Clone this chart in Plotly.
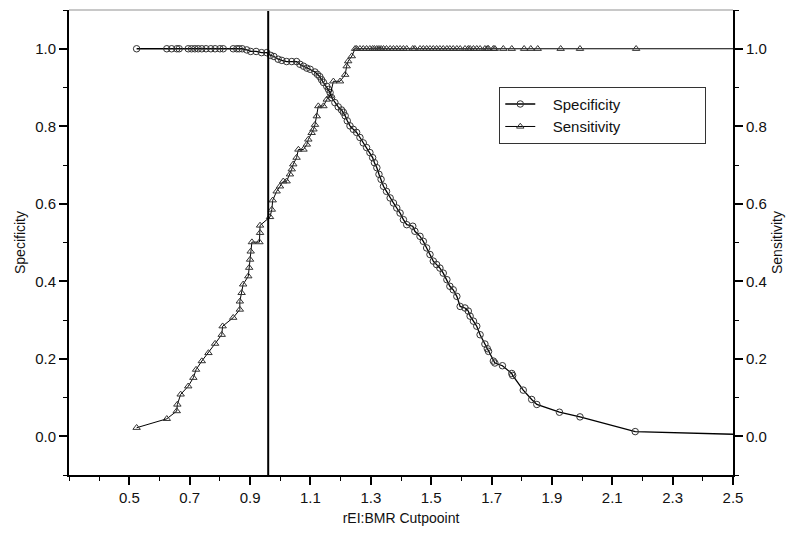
import plotly.graph_objects as go

# cutpoint (x) and specificity values, circles
spec_x = [0.524, 0.624, 0.640, 0.657, 0.665, 0.695, 0.706, 0.717, 0.728, 0.740,
          0.754, 0.770, 0.784, 0.800, 0.811, 0.844, 0.856, 0.864, 0.874,
          0.889, 0.902, 0.920, 0.938, 0.955, 0.968, 0.979, 0.993, 1.005, 1.021,
          1.038, 1.054, 1.065, 1.077, 1.088, 1.099, 1.115, 1.123, 1.131, 1.137,
          1.143, 1.154, 1.160, 1.165, 1.170, 1.181, 1.192, 1.203, 1.209, 1.215,
          1.222, 1.231, 1.242, 1.253, 1.264, 1.275, 1.286, 1.297, 1.306, 1.312,
          1.320, 1.327, 1.334, 1.342, 1.352, 1.364, 1.375, 1.386, 1.397, 1.408,
          1.419, 1.439, 1.446, 1.463, 1.474, 1.485, 1.496, 1.507, 1.518, 1.529,
          1.540, 1.552, 1.562, 1.573, 1.585, 1.596, 1.612, 1.623, 1.629, 1.640,
          1.651, 1.662, 1.678, 1.686, 1.690, 1.706, 1.711, 1.736, 1.767, 1.770,
          1.805, 1.833, 1.850, 1.925, 1.993, 2.176, 2.750]
spec_y = [1.000, 1.000, 1.000, 1.000, 1.000, 1.000, 1.000, 1.000, 1.000, 1.000,
          1.000, 1.000, 1.000, 1.000, 1.000, 1.000, 1.000, 1.000, 1.000,
          0.997, 0.993, 0.993, 0.990, 0.990, 0.983, 0.980, 0.973, 0.970, 0.967,
          0.967, 0.967, 0.960, 0.955, 0.950, 0.947, 0.940, 0.934, 0.928, 0.920,
          0.913, 0.903, 0.895, 0.887, 0.874, 0.861, 0.850, 0.842, 0.836, 0.827,
          0.814, 0.801, 0.792, 0.784, 0.771, 0.757, 0.745, 0.732, 0.719, 0.706,
          0.693, 0.676, 0.663, 0.645, 0.632, 0.615, 0.602, 0.589, 0.576, 0.559,
          0.546, 0.542, 0.529, 0.516, 0.503, 0.486, 0.469, 0.452, 0.443, 0.434,
          0.421, 0.404, 0.387, 0.378, 0.361, 0.335, 0.331, 0.323, 0.310, 0.297,
          0.284, 0.262, 0.238, 0.226, 0.219, 0.194, 0.189, 0.182, 0.162, 0.157,
          0.119, 0.095, 0.082, 0.062, 0.050, 0.012, 0.000]

# cutpoint (x) and sensitivity values, triangles
sens_x = [0.524, 0.624, 0.657, 0.659, 0.670, 0.695, 0.712, 0.721, 0.740, 0.762,
          0.784, 0.806, 0.809, 0.844, 0.866, 0.866, 0.872, 0.877, 0.894, 0.897,
          0.900, 0.902, 0.906, 0.931, 0.933, 0.933, 0.966, 0.972, 0.975, 0.988,
          0.999, 1.010, 1.021, 1.032, 1.038, 1.043, 1.054, 1.060, 1.077, 1.088,
          1.093, 1.104, 1.110, 1.115, 1.121, 1.126, 1.143, 1.154, 1.165, 1.176,
          1.198, 1.215, 1.220, 1.225, 1.237, 1.248, 1.253, 1.264, 1.275, 1.286,
          1.297, 1.306, 1.312, 1.320, 1.327, 1.334, 1.342, 1.352, 1.364, 1.375,
          1.386, 1.397, 1.408, 1.419, 1.439, 1.446, 1.463, 1.474, 1.485, 1.496,
          1.507, 1.518, 1.529, 1.540, 1.552, 1.562, 1.573, 1.585, 1.596, 1.612,
          1.623, 1.629, 1.640, 1.651, 1.662, 1.678, 1.686, 1.690, 1.706, 1.711,
          1.739, 1.767, 1.808, 1.830, 1.853, 1.929, 1.993, 2.179, 2.750]
sens_y = [0.022, 0.045, 0.065, 0.082, 0.108, 0.129, 0.151, 0.172, 0.194, 0.215,
          0.239, 0.262, 0.284, 0.306, 0.327, 0.348, 0.370, 0.392, 0.413, 0.435,
          0.456, 0.477, 0.501, 0.501, 0.525, 0.544, 0.566, 0.585, 0.609, 0.632,
          0.645, 0.658, 0.658, 0.676, 0.689, 0.702, 0.719, 0.740, 0.740, 0.753,
          0.766, 0.783, 0.792, 0.804, 0.826, 0.852, 0.852, 0.869, 0.878, 0.916,
          0.916, 0.933, 0.955, 0.968, 0.981, 1.000, 1.000, 1.000, 1.000, 1.000,
          1.000, 1.000, 1.000, 1.000, 1.000, 1.000, 1.000, 1.000, 1.000, 1.000,
          1.000, 1.000, 1.000, 1.000, 1.000, 1.000, 1.000, 1.000, 1.000, 1.000,
          1.000, 1.000, 1.000, 1.000, 1.000, 1.000, 1.000, 1.000, 1.000, 1.000,
          1.000, 1.000, 1.000, 1.000, 1.000, 1.000, 1.000, 1.000, 1.000, 1.000,
          1.000, 1.000, 1.000, 1.000, 1.000, 1.000, 1.000, 1.000, 1.000]

cutpoint = 0.96
x_ticks = [0.5, 0.7, 0.9, 1.1, 1.3, 1.5, 1.7, 1.9, 2.1, 2.3, 2.5]
y_ticks = [0.0, 0.2, 0.4, 0.6, 0.8, 1.0]

font = "Liberation Sans, Arial, sans-serif"


def legend_name(text):
    # pad with non-breaking spaces so the legend box is as wide as the original
    return "\u00a0" * 3 + text + "\u00a0" * 19


fig = go.Figure()
fig.add_trace(go.Scatter(
    x=spec_x, y=spec_y, name=legend_name("Specificity"), mode="lines+markers",
    line=dict(color="black", width=1.3),
    marker=dict(symbol="circle-open", size=6.5, color="#333", line=dict(width=1)),
))
fig.add_trace(go.Scatter(
    x=sens_x, y=sens_y, name=legend_name("Sensitivity"), mode="lines+markers", yaxis="y2",
    line=dict(color="black", width=1),
    marker=dict(symbol="triangle-up-open", size=6.5, color="#333", line=dict(width=1)),
))

# cutpoint reference line and light top border
fig.add_shape(type="line", xref="x", yref="paper", x0=cutpoint, x1=cutpoint, y0=0, y1=1,
              line=dict(color="black", width=2))
fig.add_shape(type="line", xref="paper", yref="paper", x0=0, x1=1, y0=1, y1=1,
              line=dict(color="#c8c8c8", width=2))

yax = dict(
    range=[-0.1, 1.1], tickvals=y_ticks, ticktext=[f"{v:.1f}" for v in y_ticks],
    showgrid=False, zeroline=False, showline=True, linecolor="black", linewidth=2,
    ticks="outside", ticklen=8, tickwidth=1.5, tickcolor="black",
    minor=dict(dtick=0.1, tick0=0, ticks="outside", ticklen=4, tickcolor="black", tickwidth=1),
    tickfont=dict(size=15, color="#111"),
)

# page body adds an 8px offset, so the figure is sized 8px smaller
fig.update_layout(
    width=792, height=534,
    margin=dict(l=61, r=67, t=2, b=67),
    paper_bgcolor="white", plot_bgcolor="white",
    font=dict(family=font, color="#111"),
    xaxis=dict(
        range=[0.3, 2.5], tickvals=x_ticks, ticktext=[f"{v:.1f}" for v in x_ticks],
        showgrid=False, zeroline=False, showline=True, linecolor="black", linewidth=2,
        ticks="outside", ticklen=8, tickwidth=1.5, tickcolor="black",
        minor=dict(dtick=0.1, tick0=0.3, ticks="outside", ticklen=4, tickcolor="black", tickwidth=1),
        tickfont=dict(size=15, color="#111"),
        title=dict(text="rEI:BMR Cutpooint", font=dict(size=14), standoff=8),
    ),
    yaxis=dict(**yax, title=dict(text="Specificity", font=dict(size=14), standoff=6)),
    yaxis2=dict(**yax, overlaying="y", side="right",
                title=dict(text="Sensitivity", font=dict(size=14), standoff=6)),
    legend=dict(
        x=0.648, y=0.835, xanchor="left", yanchor="top",
        bgcolor="white", bordercolor="#333", borderwidth=1,
        font=dict(size=15, color="#111"), tracegroupgap=0,
    ),
    showlegend=True,
)

fig.write_html("out.html")
